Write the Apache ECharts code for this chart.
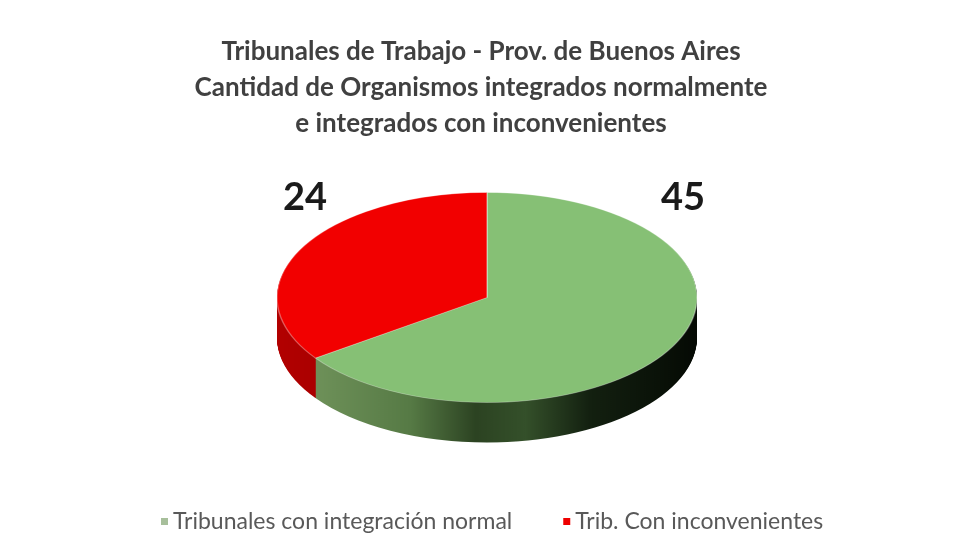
<!DOCTYPE html>
<html>
<head>
<meta charset="utf-8">
<script src="https://cdn.jsdelivr.net/npm/echarts@6/dist/echarts.min.js"></script>
<style>
  html, body { margin: 0; padding: 0; background: #fff; overflow: hidden; }
  #wrap { position: relative; width: 962px; height: 555px; }
  #base { position: absolute; left: 0; top: 0; width: 962px; height: 555px; }
  /* pie drawn as a circle, squashed to look like the tilted 3D disc */
  #disc { position: absolute; left: 0; top: 0; width: 962px; height: 1110px;
          transform: scaleY(0.5); transform-origin: 0 0; }
</style>
</head>
<body>
<div id="wrap">
  <div id="base"></div>
  <div id="disc"></div>
</div>
<script>
/* ---------- datos ---------- */
const titleLines = [
    "Tribunales de Trabajo - Prov. de Buenos Aires",
    "Cantidad de Organismos integrados normalmente",
    "e integrados con inconvenientes"
];
const categories = ["Tribunales con integración normal", "Trib. Con inconvenientes"];
const values = [45, 24];

/* ---------- estilos ---------- */
const FONT = "Lato, 'Open Sans', sans-serif";
const topColors = ["#86c075", "#f20000"];
const legendColors = ["#a7bf9b", "#ee0000"];
const sideColors = [
    { type: "linear", x: 0, y: 0, x2: 1, y2: 0, colorStops: [
        { offset: 0, color: "#6e9159" },
        { offset: 0.25, color: "#567a45" },
        { offset: 0.42, color: "#2c4322" },
        { offset: 0.55, color: "#34502a" },
        { offset: 0.72, color: "#132010" },
        { offset: 1, color: "#050a04" }
    ] },
    { type: "linear", x: 0, y: 0, x2: 1, y2: 0, colorStops: [
        { offset: 0, color: "#b20000" },
        { offset: 1, color: "#8a0000" }
    ] }
];
const labelPos = [[683, 198], [305, 198]];   // 45 a la derecha, 24 a la izquierda

const CX = 487, CY = 595, R = 210, DEPTH = 80;

function pieData(colors) {
    return categories.map((name, i) => ({ name: name, value: values[i], itemStyle: { color: colors[i] } }));
}

/* ---------- título, leyenda y valores ---------- */
const base = echarts.init(document.getElementById("base"));
base.setOption({
    backgroundColor: "#ffffff",
    animation: false,
    title: {
        text: titleLines.join("\n"),
        left: "center",
        top: 29,
        padding: [5, 0, 5, 10],
        textStyle: { fontFamily: FONT, fontWeight: "bold", fontSize: 26, lineHeight: 36, color: "#404040" }
    },
    legend: {
        bottom: 17,
        left: 156,
        icon: "rect",
        itemWidth: 7,
        itemHeight: 7,
        itemGap: 51,
        textStyle: { fontFamily: FONT, fontSize: 23, color: "#595959" },
        data: categories
    },
    graphic: values.map((v, i) => ({
        type: "text",
        x: labelPos[i][0],
        y: labelPos[i][1],
        style: {
            text: String(v),
            font: "bold 38px " + FONT,
            fill: "#1a1a1a",
            align: "center",
            verticalAlign: "middle"
        }
    })),
    series: [{
        type: "pie",
        radius: 0,
        center: [-100, -100],
        silent: true,
        label: { show: false },
        labelLine: { show: false },
        data: pieData(legendColors)
    }]
});

/* ---------- disco 3D ---------- */
const disc = echarts.init(document.getElementById("disc"));
const layers = [];
for (let k = DEPTH; k >= 1; k -= 1) {
    layers.push({
        type: "pie",
        center: [CX, CY + k],
        radius: R,
        startAngle: 90,
        clockwise: true,
        silent: true,
        label: { show: false },
        labelLine: { show: false },
        data: pieData(sideColors)
    });
}
layers.push({
    type: "pie",
    center: [CX, CY],
    radius: R,
    startAngle: 90,
    clockwise: true,
    silent: true,
    label: { show: false },
    labelLine: { show: false },
    itemStyle: { borderColor: "rgba(255,255,255,0.35)", borderWidth: 1.5 },
    data: pieData(topColors)
});
disc.setOption({
    animation: false,
    series: layers
});
</script>
</body>
</html>
